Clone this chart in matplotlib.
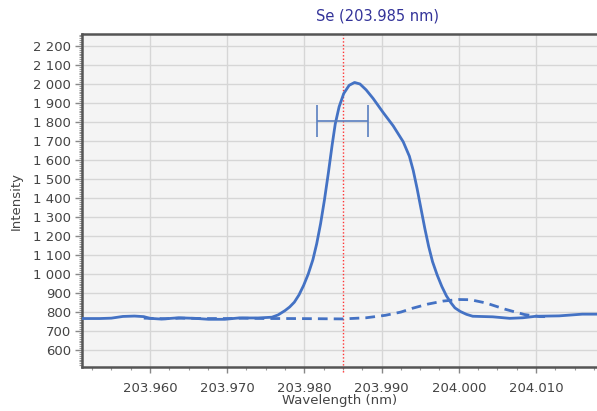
import matplotlib
matplotlib.use("Agg")
import matplotlib.pyplot as plt
from matplotlib.ticker import MultipleLocator, FuncFormatter

# --- data ---
solid_x = [203.9512, 203.9535, 203.9550, 203.9565, 203.9580, 203.9592, 203.9600,
           203.9615, 203.9637, 203.9658, 203.9676, 203.9697, 203.9715, 203.9740,
           203.9758, 203.9766, 203.9775, 203.9781, 203.9787, 203.9793, 203.9799,
           203.9805, 203.9811, 203.9816, 203.9821, 203.9826, 203.9831, 203.9836,
           203.9840, 203.9845, 203.9851, 203.9858, 203.9865, 203.9872, 203.9880,
           203.9889, 203.9902, 203.9915, 203.9928, 203.9936, 203.9941, 203.9946,
           203.9951, 203.9956, 203.9961, 203.9966, 203.9972, 203.9978, 203.9984,
           203.9990, 203.9995, 204.0002, 204.0010, 204.0018, 204.0044, 204.0066,
           204.0083, 204.0100, 204.0130, 204.0160, 204.0179]
solid_y = [766, 766, 768, 777, 779, 776, 767,
           763, 770, 767, 762, 762, 769, 769,
           773, 785, 808, 827, 852, 890, 940,
           1000, 1075, 1160, 1265, 1390, 1530, 1680,
           1790, 1880, 1950, 1993, 2008, 2000, 1969,
           1924, 1850, 1780, 1696, 1620, 1545, 1450,
           1345, 1240, 1145, 1065, 995, 935, 885,
           848, 822, 803, 788, 778, 775, 767,
           770, 778, 780, 789, 789]

dash_x = [203.9592, 203.9620, 203.9640, 203.9670, 203.9700, 203.9720, 203.9750,
          203.9780, 203.9820, 203.9850, 203.9880, 203.9905, 203.9925, 203.9940,
          203.9960, 203.9980, 204.0000, 204.0015, 204.0035, 204.0060, 204.0085,
          204.0105, 204.0114]
dash_y = [768, 765, 768, 766, 766, 768, 766,
          766, 765, 764, 770, 783, 800, 820,
          842, 858, 866, 865, 848, 815, 787,
          776, 776]

center_wl = 203.985
err_center_y = 1805
err_half_width = 0.0033

title_text = "Se (203.985 nm)"
x_label = "Wavelength (nm)"
y_label = "Intensity"

blue = "#4472c4"

fig = plt.figure(figsize=(5.97, 4.11), dpi=100)
ax = fig.add_axes([82/597, 1-367/411, 1-82/597, (367-34)/411])
ax.set_facecolor("#f4f4f4")

ax.plot(solid_x, solid_y, color=blue, lw=2.0, solid_joinstyle="round", zorder=3)
ax.plot(dash_x, dash_y, color=blue, lw=2.0, ls=(0, (3.5, 2.2)), zorder=3)

ax.errorbar([center_wl], [err_center_y], xerr=[err_half_width], fmt="none",
            ecolor="#5a7fc0", elinewidth=1.2, capsize=11.5, capthick=1.2, zorder=4)

ax.axvline(center_wl, color="#ff3333", lw=1.0, ls=(0, (1, 1.5)), zorder=2,
           ymin=-0.015, ymax=1, clip_on=False)

ax.set_xlim(203.9512, 204.0179)
ax.set_ylim(511, 2263)

ax.xaxis.set_major_locator(MultipleLocator(0.01))
ax.xaxis.set_minor_locator(MultipleLocator(0.0025))
ax.yaxis.set_major_locator(MultipleLocator(100))
ax.yaxis.set_minor_locator(MultipleLocator(10))
ax.xaxis.set_major_formatter(FuncFormatter(lambda v, p: f"{v:.3f}"))
ax.yaxis.set_major_formatter(FuncFormatter(lambda v, p: f"{int(round(v)):,}".replace(",", " ")))

ax.set_ylim(511, 2263)

ax.grid(True, which="major", color="#d6d6d6", lw=1.0)
ax.set_axisbelow(True)

for s in ["left", "bottom", "top"]:
    ax.spines[s].set_color("#555555")
    ax.spines[s].set_linewidth(1.8)
ax.spines["right"].set_visible(False)

ax.tick_params(axis="both", which="major", length=5, width=1, color="#888888",
               labelsize=9.5, labelcolor="#444444")
ax.tick_params(axis="both", which="minor", length=2.5, width=0.8, color="#999999")
ax.tick_params(axis="x", which="major", length=4, pad=7)
ax.tick_params(axis="y", which="major", pad=3)

ax.set_xlabel(x_label, fontsize=9.5, color="#444444", labelpad=-1)
ax.set_ylabel(y_label, fontsize=9.5, color="#444444", labelpad=7)

fig.text(377/597, 1-16/411, title_text, ha="center", va="center",
         fontsize=10.5, color="#333399")

fig.savefig("out.png", dpi=100, facecolor="white")
